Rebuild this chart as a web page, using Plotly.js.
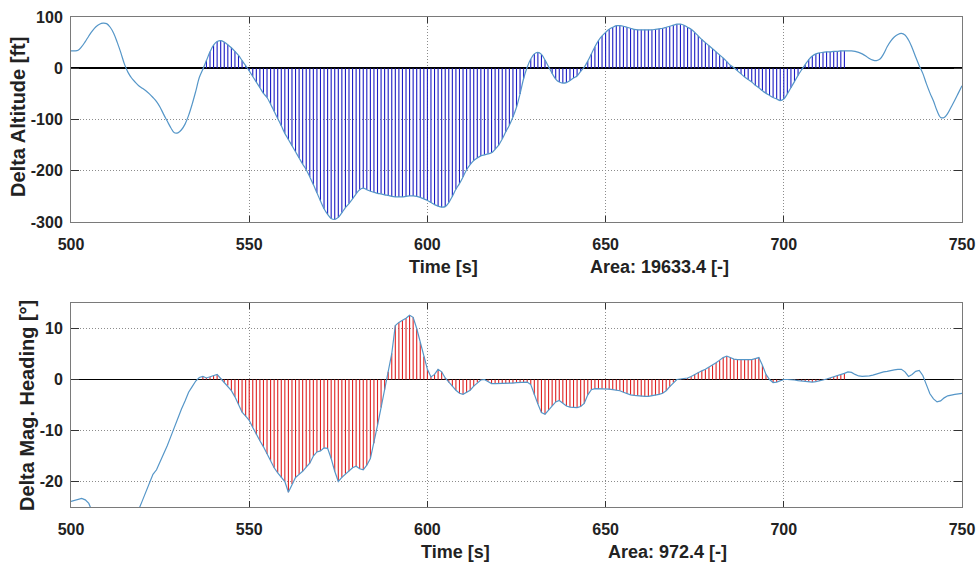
<!DOCTYPE html>
<html>
<head>
<meta charset="utf-8">
<script src="https://cdn.plot.ly/plotly-3.0.1.min.js"></script>
<style>html,body{margin:0;padding:0;background:#fff;}#chart{width:977px;height:562px;}</style>
</head>
<body>
<div id="chart"></div>
<script>
// Time axis (s), one sample per second from 500 to 750
const timeStart = 500;
// Delta Altitude [ft]
const deltaAltitude = [
 34,34,35,42,52,63,73,81,86,88, 87,80,68,50,30,8,-8,-19,-27,-34,
 -39,-44,-50,-57,-65,-76,-90,-103,-116,-126, -126,-120,-109,-92,-70,-45,-18,-2,15,32,
 45,52,54,51,46,40,33,25,15,5, -5,-16,-27,-38,-49,-57,-70,-84,-98,-112,
 -127,-139,-151,-163,-175,-187,-198,-212,-227,-243, -259,-274,-285,-293,-295,-291,-282,-272,-264,-255,
 -245,-237,-234,-237,-240,-242,-244,-245,-247,-248, -250,-251,-251,-251,-250,-249,-249,-250,-252,-255,
 -258,-262,-266,-269,-271,-270,-262,-250,-236,-225, -212,-198,-188,-180,-175,-171,-169,-167,-165,-158,
 -150,-138,-124,-111,-95,-76,-50,-20,2,18, 28,31,27,16,3,-10,-21,-27,-29,-28,
 -24,-19,-15,-6,2,14,28,42,54,63, 70,76,80,83,83,82,80,78,76,75,
 75,75,75,75,76,77,78,80,82,84, 86,86,84,80,76,70,63,56,50,44,
 38,32,26,20,13,6,1,-5,-11,-17, -22,-27,-33,-38,-44,-49,-53,-57,-60,-63,
 -60,-50,-38,-26,-14,-3,7,17,24,28, 30,31,32,32,33,33,34,34,34,34,
 33,31,28,24,19,16,15,18,28,42, 53,61,66,68,65,55,40,22,5,-10,
 -30,-48,-64,-83,-96,-96,-88,-75,-62,-48, -34
];
// Delta Mag. Heading [deg]
const deltaHeading = [
 -23.9,-23.7,-23.4,-23.3,-23.6,-24.3,-26,-27.5,-28.5,-29.5, -30,-30.5,-30.5,-30.5,-30,-29.5,-28.5,-27.5,-26.5,-25.5,
 -23.8,-22.0,-20.0,-18.6,-17.7,-16.2,-14.6,-13.0,-11.2,-9.3, -7.5,-5.8,-4.2,-2.5,-1.4,-0.3,0.4,0.6,0.3,0.5,
 0.7,1.0,0.2,-0.6,-1.2,-2.2,-3.4,-5.0,-6.4,-7.2, -8.0,-9.4,-10.8,-12.0,-13.2,-14.6,-16.0,-17.3,-18.3,-19.2,
 -20.0,-22.1,-20.5,-19.2,-18.6,-18.0,-17.2,-16.4,-15.0,-14.2, -14.0,-13.4,-13.5,-15.5,-18.0,-20.0,-19.2,-18.5,-18.0,-17.3,
 -17.0,-17.5,-17.7,-16.8,-15.5,-12.5,-9.0,-5.5,-2.0,1.5, 5.1,10.6,11.2,11.6,12.0,12.6,12.2,10.0,7.3,4.5,
 2.0,0.5,1.0,2.0,1.5,0.3,-0.6,-1.3,-2.1,-2.7, -2.9,-2.5,-2.1,-1.3,-0.6,-0.1,0,-0.4,-0.8,-0.8,
 -0.8,-0.8,-0.8,-0.7,-0.7,-0.6,-0.6,-0.5,-0.5,-1.0, -3.0,-4.8,-6.5,-6.8,-6.0,-5.2,-4.4,-4.1,-4.6,-5.2,
 -5.4,-5.5,-5.5,-5.3,-4.7,-3.0,-2.0,-1.8,-1.8,-1.8, -1.8,-1.9,-2.0,-2.1,-2.2,-2.5,-2.8,-3.0,-3.1,-3.2,
 -3.3,-3.3,-3.3,-3.2,-3.1,-2.9,-2.7,-2.2,-1.4,-0.6, 0,0.1,0.2,0.3,0.6,1.0,1.4,1.7,2.0,2.4,
 2.8,3.3,3.8,4.3,4.6,4.3,4.0,3.9,3.9,3.9, 3.9,3.9,4.1,4.3,2.8,1.0,0,-0.6,-0.5,-0.2,
 0,0,0,-0.1,-0.2,-0.3,-0.4,-0.5,-0.5,-0.4, -0.3,-0.1,0.1,0.3,0.5,0.8,1.0,1.2,1.5,1.4,
 1.0,0.7,0.6,0.6,0.7,0.85,1.1,1.3,1.5,1.6, 1.8,1.9,2.0,2.0,1.5,0.6,1.0,1.6,1.8,0.8,
 -1.0,-2.8,-3.8,-4.4,-4.2,-3.6,-3.2,-3.0,-2.9,-2.8, -2.7
];
// Integration window where stems are drawn
const areaStart = 537, areaEnd = 717;
const xTicks = [500, 550, 600, 650, 700, 750];
const altTicks = [-300, -200, -100, 0, 100];
const hdgTicks = [-20, -10, 0, 10];
const xLabel = 'Time [s]';
const altLabel = 'Delta Altitude [ft]';
const hdgLabel = 'Delta Mag. Heading [°]';
const altArea = 'Area: 19633.4 [-]';
const hdgArea = 'Area: 972.4 [-]';

const time = deltaAltitude.map((_, i) => timeStart + i);

function stems(vals) {
  const xs = [], ys = [];
  time.forEach((t, i) => {
    if (t >= areaStart && t <= areaEnd) {
      xs.push(t, t, null); ys.push(0, vals[i], null);
    }
  });
  return {xs, ys};
}
const sA = stems(deltaAltitude), sH = stems(deltaHeading);

const lineColor = '#5596c8';
const traces = [
  {x: sA.xs, y: sA.ys, mode: 'lines', line: {color: '#1c1cc4', width: 1.1}, xaxis: 'x', yaxis: 'y', hoverinfo: 'skip'},
  {x: time, y: deltaAltitude, mode: 'lines', line: {color: lineColor, width: 1.2, shape: 'spline'}, xaxis: 'x', yaxis: 'y'},
  {x: sH.xs, y: sH.ys, mode: 'lines', line: {color: '#e02222', width: 1.1}, xaxis: 'x2', yaxis: 'y2', hoverinfo: 'skip'},
  {x: time, y: deltaHeading, mode: 'lines', line: {color: lineColor, width: 1.2}, xaxis: 'x2', yaxis: 'y2'}
];

const tickFont = {family: 'Liberation Sans, Arial, sans-serif', size: 16, color: '#222', weight: 'bold'};
const titleFont = {family: 'Liberation Sans, Arial, sans-serif', size: 18, color: '#222', weight: 'bold'};
const yTitleFont = {family: 'Liberation Sans, Arial, sans-serif', size: 20, color: '#222', weight: 'bold'};

function xaxis(anchor) {
  return {
    range: [500, 750], tickvals: xTicks, ticktext: xTicks.map(String), anchor: anchor,
    showgrid: true, gridcolor: '#8c8c8c', griddash: '1px,2px', gridwidth: 1,
    showline: true, linecolor: '#7a7a7a', linewidth: 1, mirror: 'ticks',
    ticks: 'inside', ticklen: 6, tickcolor: '#333', tickfont: tickFont,
    ticklabelstandoff: 8, zeroline: false
  };
}
function yaxis(anchor, domain, range, ticks) {
  return {
    domain: domain, range: range, tickvals: ticks, ticktext: ticks.map(String), anchor: anchor,
    showgrid: true, gridcolor: '#8c8c8c', griddash: '1px,2px', gridwidth: 1,
    showline: true, linecolor: '#7a7a7a', linewidth: 1, mirror: 'ticks',
    ticks: 'inside', ticklen: 8, tickcolor: '#333', tickfont: tickFont,
    ticklabelstandoff: 4, zeroline: true, zerolinecolor: '#000', zerolinewidth: 1.6
  };
}

const layout = {
  width: 977, height: 562,
  margin: {l: 71, r: 15, t: 17, b: 55},
  paper_bgcolor: '#fff', plot_bgcolor: '#fff',
  showlegend: false,
  xaxis: xaxis('y'),
  yaxis: yaxis('x', [0.5816, 1], [-300, 100], altTicks),
  xaxis2: xaxis('y2'),
  yaxis2: yaxis('x2', [0, 0.4163], [-25, 15], hdgTicks),
  annotations: [
    {text: xLabel, xref: 'paper', yref: 'paper', x: 0.4186, y: 0.4898, xanchor: 'center', yanchor: 'middle', showarrow: false, font: titleFont},
    {text: altArea, xref: 'paper', yref: 'paper', x: 0.661, y: 0.4898, xanchor: 'center', yanchor: 'middle', showarrow: false, font: titleFont},
    {text: xLabel, xref: 'paper', yref: 'paper', x: 0.431, y: -0.0918, xanchor: 'center', yanchor: 'middle', showarrow: false, font: titleFont},
    {text: hdgArea, xref: 'paper', yref: 'paper', x: 0.669, y: -0.0918, xanchor: 'center', yanchor: 'middle', showarrow: false, font: titleFont},
    {text: altLabel, xref: 'paper', yref: 'paper', x: -0.0595, y: 0.796, xanchor: 'center', yanchor: 'middle', textangle: -90, showarrow: false, font: yTitleFont},
    {text: hdgLabel, xref: 'paper', yref: 'paper', x: -0.0494, y: 0.208, xanchor: 'center', yanchor: 'middle', textangle: -90, showarrow: false, font: yTitleFont}
  ]
};

Plotly.newPlot('chart', traces, layout, {staticPlot: true, displayModeBar: false});
</script>
</body>
</html>
